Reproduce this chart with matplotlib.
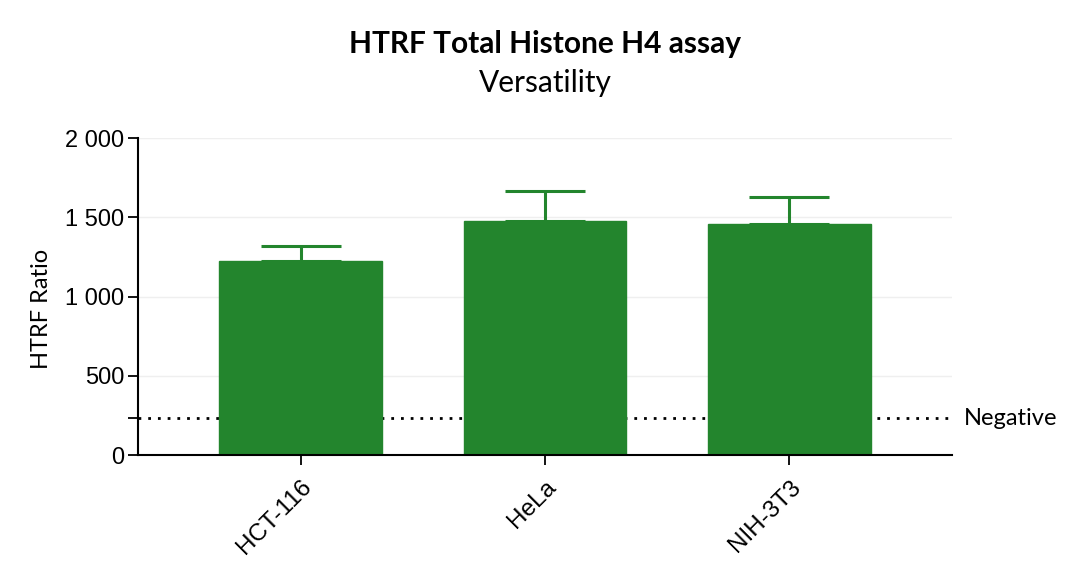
import matplotlib.pyplot as plt
import numpy as np

# Data
cells = ["HCT-116", "HeLa", "NIH-3T3"]
ratio = [1224, 1476, 1457]
err_up = [95, 190, 171]
negative = 233

green = "#23852d"

fig = plt.figure(figsize=(10.8, 5.8), dpi=100)
ax = fig.add_axes([0.1278, 0.2155, 0.7537, 0.5465])

x = np.arange(len(cells))
ax.axhline(negative, color="black", lw=2.0, linestyle=(0, (1, 2.5)), zorder=1)
ax.bar(x, ratio, width=0.665, color=green, edgecolor=green, zorder=2)
ax.errorbar(x, ratio, yerr=[np.zeros(len(ratio)), err_up], fmt="none",
            ecolor=green, elinewidth=2.2, capsize=28.5, capthick=2.2, zorder=3)

ax.set_xlim(-0.665, 2.665)
ax.set_ylim(0, 2000)
ax.set_yticks([0, 500, 1000, 1500, 2000])
ax.set_yticklabels(["0", "500", "1 000", "1 500", "2 000"],
                   family="Liberation Sans", fontsize=17)
ax.set_yticks([negative], minor=True)
ax.tick_params(axis="y", which="both", length=7, width=1.3, pad=3)
ax.set_xticks(x)
ax.set_xticklabels(cells, rotation=45, ha="right", rotation_mode="anchor",
                   family="Liberation Sans", fontsize=17.5)
ax.tick_params(axis="x", length=7, width=1.3, pad=8)

ax.grid(axis="y", color="#efefef", lw=1, zorder=0)
ax.set_axisbelow(True)
for s in ["top", "right"]:
    ax.spines[s].set_visible(False)
ax.spines["left"].set_linewidth(1.5)
ax.spines["bottom"].set_linewidth(1.5)

ax.set_ylabel("HTRF Ratio", family="Lato", fontsize=17)
ax.yaxis.set_label_coords(-0.106, 0.46)
ax.text(1.014, negative, "Negative", transform=ax.get_yaxis_transform(),
        va="center", ha="left", family="Lato", fontsize=17)

fig.text(0.505, 0.925, "HTRF Total Histone H4 assay", ha="center", va="center",
         family="Lato", fontweight="bold", fontsize=21.5)
fig.text(0.505, 0.857, "Versatility", ha="center", va="center",
         family="Lato", fontsize=21.5)

plt.savefig("out.png", dpi=100)
